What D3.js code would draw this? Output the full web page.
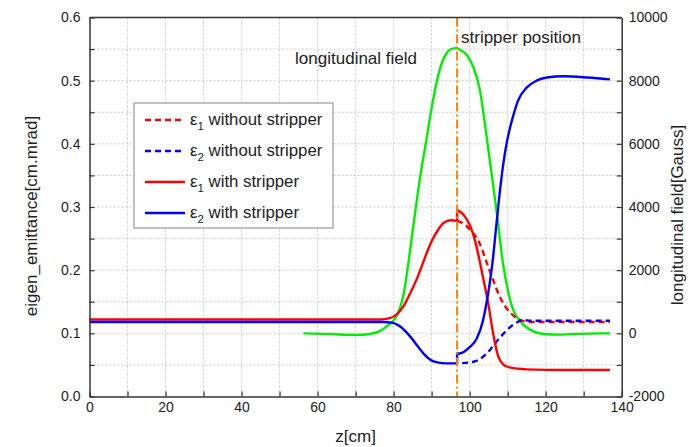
<!DOCTYPE html>
<html>
<head>
<meta charset="utf-8">
<script src="https://cdn.jsdelivr.net/npm/d3@7"></script>
<style>
  body { margin: 0; background: #fff; }
  text { font-family: "Liberation Sans", Arial, sans-serif; fill: #222; }
</style>
</head>
<body>
<svg id="chart" width="696" height="447"></svg>
<script>
// ---- axis ticks ----
const zTicks = [0, 20, 40, 60, 80, 100, 120, 140];
const zMinorTicks = [10, 30, 50, 70, 90, 110, 130];
const emitTicks = [0.0, 0.1, 0.2, 0.3, 0.4, 0.5, 0.6];
const emitMinorTicks = [0.05, 0.15, 0.25, 0.35, 0.45, 0.55];
const fieldTicks = [-2000, 0, 2000, 4000, 6000, 8000, 10000];
const fieldMinorTicks = [-1000, 1000, 3000, 5000, 7000, 9000];

// position of the charge stripper along z [cm]
const stripperZ = 96.7;

// longitudinal magnetic field [Gauss] vs z [cm]
const fieldProfile = [
  [56.3, 0], [63.3, -25], [70.4, -50], [73.8, -20], [76.4, 70], [78.8, 280],
  [79.8, 380], [80.8, 560], [81.8, 850], [82.8, 1350], [83.8, 2150], [84.8, 3050],
  [85.8, 3950], [86.8, 4800], [87.8, 5550], [88.8, 6250], [89.8, 7000], [90.8, 7650],
  [91.8, 8200], [92.8, 8600], [93.8, 8850], [94.8, 8980], [96.4, 9030], [97.8, 8950],
  [99.2, 8820], [100.9, 8450], [102.7, 7700], [104.0, 6650], [105.3, 5480], [106.6, 4310],
  [107.5, 3460], [108.8, 2190], [110.1, 1340], [111.4, 760], [113.2, 390], [115.8, 120],
  [119.3, -20], [123.7, -40], [126.3, -30], [131.5, -10], [136.9, 0]
];

// eigen-emittance eps1 [cm.mrad] upstream of the stripper
const eps1Before = [
  [0, 0.122], [76.5, 0.122], [79, 0.124], [81, 0.131], [82.7, 0.144], [84.5, 0.165],
  [86.3, 0.189], [88, 0.216], [89.7, 0.242], [91.5, 0.262], [93.2, 0.275], [95, 0.279],
  [96.7, 0.278]
];
// eps1 downstream, with stripper
const eps1With = [
  [96.7, 0.295], [97.6, 0.292], [99.2, 0.281], [100.9, 0.258], [102.2, 0.227],
  [103.5, 0.189], [104.9, 0.147], [106.2, 0.099], [107.5, 0.064], [108.8, 0.051],
  [110.5, 0.046], [115, 0.043], [124, 0.042], [136.9, 0.042]
];
// eps1 downstream, without stripper
const eps1Without = [
  [96.7, 0.278], [98, 0.275], [100, 0.265], [102.8, 0.240], [104.5, 0.212],
  [106.2, 0.184], [108, 0.157], [109.8, 0.139], [111.5, 0.128], [113.7, 0.120],
  [116, 0.118], [136.9, 0.118]
];

// eigen-emittance eps2 [cm.mrad] upstream of the stripper
const eps2Before = [
  [0, 0.118], [77, 0.118], [79.5, 0.117], [81.2, 0.113], [82.7, 0.106], [84.5, 0.094],
  [86.3, 0.080], [88, 0.067], [89.7, 0.058], [91.5, 0.054], [94, 0.0525], [96.7, 0.0525]
];
// eps2 downstream, with stripper
const eps2With = [
  [96.7, 0.068], [97.4, 0.068], [100, 0.078], [101.8, 0.091], [103.5, 0.12],
  [104.4, 0.147], [105.3, 0.18], [106.2, 0.222], [107, 0.27], [107.9, 0.322],
  [108.8, 0.366], [109.8, 0.403], [110.6, 0.425], [111.4, 0.443], [112.7, 0.468],
  [115, 0.489], [117.6, 0.5], [120.3, 0.505], [124.6, 0.507], [131, 0.505], [136.9, 0.502]
];
// eps2 downstream, without stripper
const eps2Without = [
  [96.7, 0.0525], [101, 0.055], [104.5, 0.068], [107.1, 0.087], [109.8, 0.105],
  [112, 0.116], [114.1, 0.121], [116, 0.120], [136.9, 0.120]
];

// legend entries
const legendIndex = ["1", "2", "1", "2"];
const legendText = [" without stripper", " without stripper", " with stripper", " with stripper"];
const legendColor = ["#ff0000", "#0000ff", "#ff0000", "#0000ff"];
const legendDashed = [true, true, false, false];

// ---- layout ----
const plot = { left: 89.5, right: 621.7, top: 17.5, bottom: 396.5 };
const RED = "#ff0000", BLUE = "#0000ff", GREEN = "#00ee00", ORANGE = "#ff8000";
const AXIS = "#333";

const svg = d3.select("#chart");

const x = d3.scaleLinear().domain([0, 140]).range([plot.left, plot.right]);
const yL = d3.scaleLinear().domain([0, 0.6]).range([plot.bottom, plot.top]);
const yR = d3.scaleLinear().domain([-2000, 10000]).range([plot.bottom, plot.top]);

// dotted grid at every major and minor step
const grid = svg.append("g").attr("stroke", "#c8c8c8").attr("stroke-width", 1)
  .attr("stroke-dasharray", "2,2");
zTicks.concat(zMinorTicks).filter(d => d > 0 && d < 140).forEach(d => {
  grid.append("line").attr("x1", x(d)).attr("x2", x(d))
    .attr("y1", plot.top).attr("y2", plot.bottom);
});
emitTicks.concat(emitMinorTicks).filter(d => d > 0 && d < 0.6).forEach(d => {
  grid.append("line").attr("x1", plot.left).attr("x2", plot.right)
    .attr("y1", yL(d)).attr("y2", yL(d));
});

// ---- curves ----
const lineL = d3.line().x(d => x(d[0])).y(d => yL(d[1])).curve(d3.curveMonotoneX);
const lineR = d3.line().x(d => x(d[0])).y(d => yR(d[1])).curve(d3.curveMonotoneX);

// join the upstream and downstream parts so the jump at the stripper is a vertical step
function joined(a, b) {
  return lineL(a) + lineL(b).replace(/^M/, "L");
}

const curves = svg.append("g").attr("fill", "none").attr("stroke-width", 2.4)
  .attr("stroke-linejoin", "round");

curves.append("path").attr("d", lineR(fieldProfile)).attr("stroke", GREEN);

curves.append("path").attr("d", lineL(eps1Without)).attr("stroke", RED)
  .attr("stroke-dasharray", "6,4");
curves.append("path").attr("d", lineL(eps2Without)).attr("stroke", BLUE)
  .attr("stroke-dasharray", "6,4").attr("stroke-dashoffset", 5);

curves.append("path").attr("d", joined(eps1Before, eps1With)).attr("stroke", RED);
curves.append("path").attr("d", joined(eps2Before, eps2With)).attr("stroke", BLUE);

// stripper marker
svg.append("line")
  .attr("x1", x(stripperZ)).attr("x2", x(stripperZ))
  .attr("y1", plot.top).attr("y2", plot.bottom)
  .attr("stroke", ORANGE).attr("stroke-width", 2)
  .attr("stroke-dasharray", "9,3,2,3");

// ---- axes ----
const fmtL = d => (emitTicks.includes(d) ? d.toFixed(1) : "");
const fmtR = d => (fieldTicks.includes(d) ? String(d) : "");
const fmtX = d => (zTicks.includes(d) ? String(d) : "");

const axisLeft = d3.axisLeft(yL)
  .tickValues(emitTicks.concat(emitMinorTicks)).tickFormat(fmtL)
  .tickSizeInner(-5).tickSizeOuter(0).tickPadding(9);
const axisRight = d3.axisRight(yR)
  .tickValues(fieldTicks.concat(fieldMinorTicks)).tickFormat(fmtR)
  .tickSizeInner(-5).tickSizeOuter(0).tickPadding(7);
const axisBottom = d3.axisBottom(x)
  .tickValues(zTicks.concat(zMinorTicks)).tickFormat(fmtX)
  .tickSizeInner(-5).tickSizeOuter(0).tickPadding(6);

function styleAxis(g) {
  g.attr("font-family", null).attr("font-size", null);
  g.select(".domain").attr("stroke", AXIS).attr("stroke-width", 1.5);
  g.selectAll(".tick line").attr("stroke", AXIS).attr("stroke-width", 1.2);
  g.selectAll(".tick text").attr("font-size", 14).style("fill", "#222");
}

svg.append("g").attr("transform", `translate(${plot.left},0)`).call(axisLeft).call(styleAxis);
svg.append("g").attr("transform", `translate(${plot.right},0)`).call(axisRight).call(styleAxis);
svg.append("g").attr("transform", `translate(0,${plot.bottom})`).call(axisBottom).call(styleAxis);

// top frame edge
svg.append("line").attr("x1", plot.left).attr("x2", plot.right)
  .attr("y1", plot.top).attr("y2", plot.top)
  .attr("stroke", AXIS).attr("stroke-width", 1.5);

// ---- axis titles ----
svg.append("text").attr("transform", "translate(37,216) rotate(-90)")
  .attr("text-anchor", "middle").attr("font-size", 17).text("eigen_emittance[cm.mrad]");
svg.append("text").attr("transform", "translate(683,215) rotate(-90)")
  .attr("text-anchor", "middle").attr("font-size", 17).text("longitudinal field[Gauss]");
svg.append("text").attr("x", (plot.left + plot.right) / 2).attr("y", 442)
  .attr("text-anchor", "middle").attr("font-size", 17).text("z[cm]");

// ---- annotations ----
svg.append("text").attr("x", 417).attr("y", 64).attr("text-anchor", "end")
  .attr("font-size", 17).text("longitudinal field");
svg.append("text").attr("x", 461).attr("y", 43)
  .attr("font-size", 17).text("stripper position");

// ---- legend ----
const legend = svg.append("g").attr("transform", "translate(134,103)");
legend.append("rect").attr("width", 199).attr("height", 125)
  .attr("fill", "#fff").attr("stroke", "#999").attr("stroke-width", 1.2);
legendText.forEach((t, i) => {
  const cy = 17 + i * 31;
  legend.append("line").attr("x1", 11).attr("x2", 51).attr("y1", cy).attr("y2", cy)
    .attr("stroke", legendColor[i]).attr("stroke-width", 2.4)
    .attr("stroke-dasharray", legendDashed[i] ? "6,4" : null);
  const tx = legend.append("text").attr("x", 56).attr("y", cy + 5).attr("font-size", 16.8);
  tx.append("tspan").text("\u03b5");
  tx.append("tspan").attr("dy", 5).attr("font-size", 11.5).text(legendIndex[i]);
  tx.append("tspan").attr("dy", -5).text(legendText[i]);
});
</script>
</body>
</html>
